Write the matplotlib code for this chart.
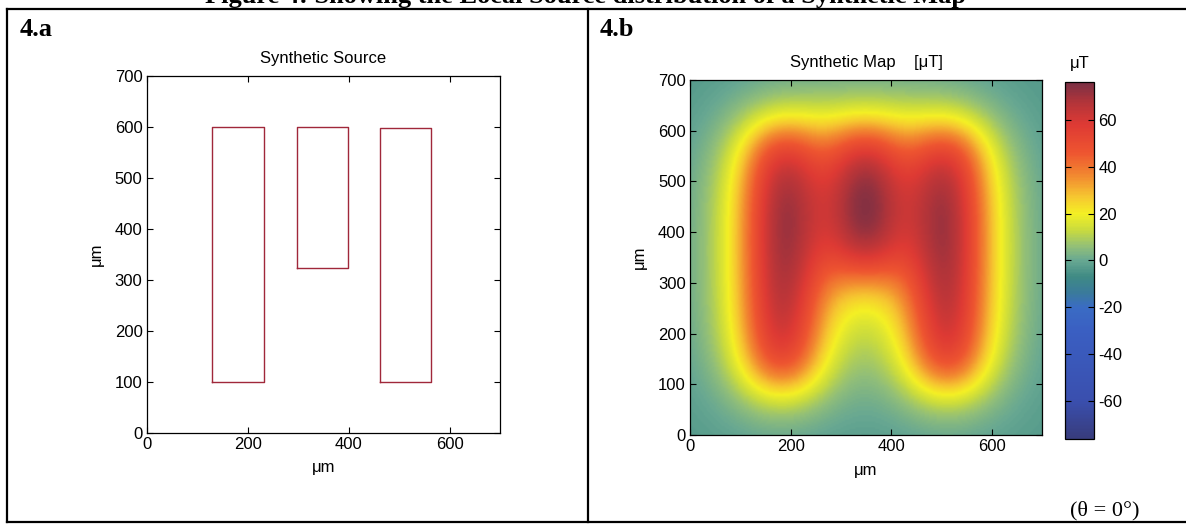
import numpy as np
import matplotlib.pyplot as plt
from matplotlib.colors import LinearSegmentedColormap
from matplotlib.lines import Line2D

plt.rcParams['font.family'] = ['Liberation Sans', 'DejaVu Sans']
plt.rcParams['axes.unicode_minus'] = False

# synthetic source: three rectangles (um)
rect_x0 = [130, 298, 462]
rect_x1 = [232, 398, 563]
rect_y0 = [100, 323, 100]
rect_y1 = [600, 599, 598]

x_ticks = [0, 200, 400, 600]
y_ticks = [0, 100, 200, 300, 400, 500, 600, 700]
cb_ticks = [-60, -40, -20, 0, 20, 40, 60]

# map model: sensor lift-off / layer thickness (um), peak field (uT)
liftoff = 82
thickness = 300
peak_field = 74
cb_lim = 76

# colour scale as it looks in the scan
cmap_vals = [-76, -60, -30, -20, -14, -7, 0, 6, 13, 20, 27, 36, 46, 58, 68, 76]
cmap_cols = ['#383c7c', '#3a4fae', '#3a5fc2', '#3a6cc4', '#3a7a9c', '#3f8a84',
             '#68a892', '#92bf78', '#c9db3e', '#f4f024', '#f6c830', '#f28a30',
             '#ee5530', '#de3a34', '#b0343a', '#7a3044']


def solid_angle(xx, yy, z, x0, x1, y0, y1):
    om = np.zeros_like(xx)
    for xi, sx in ((x1, 1), (x0, -1)):
        for yj, sy in ((y1, 1), (y0, -1)):
            dx = xi - xx
            dy = yj - yy
            r = np.sqrt(dx**2 + dy**2 + z**2)
            om += sx * sy * np.arctan(dx * dy / (z * r))
    return om


def synthetic_map():
    g = np.arange(0, 701, 3.0)
    xx, yy = np.meshgrid(g, g)
    bz = np.zeros_like(xx)
    for x0, x1, y0, y1 in zip(rect_x0, rect_x1, rect_y0, rect_y1):
        bz += solid_angle(xx, yy, liftoff, x0, x1, y0, y1)
        bz -= solid_angle(xx, yy, liftoff + thickness, x0, x1, y0, y1)
    return bz / bz.max() * peak_field


def style_axes(ax):
    ax.set_xlim(0, 700)
    ax.set_ylim(0, 700)
    ax.set_xticks(x_ticks)
    ax.set_yticks(y_ticks)
    ax.tick_params(direction='in', top=True, right=True, length=4,
                   width=0.8, labelsize=12, pad=3)
    for s in ax.spines.values():
        s.set_linewidth(0.9)
    ax.set_xlabel('μm', fontsize=12, labelpad=6)
    ax.set_ylabel('μm', fontsize=12, labelpad=8)


fig = plt.figure(figsize=(11.86, 5.25), dpi=100)

# page frame from the scanned document
W, H = 1186.0, 525.0
frame = [((7, 1186), (9, 9)), ((7, 7), (9, 522)), ((7, 1186), (522, 522)),
         ((588, 588), (9, 522))]
for xs, ys in frame:
    fig.add_artist(Line2D([x / W for x in xs], [1 - y / H for y in ys],
                          color='black', lw=1.6))

fig.text(966 / W, 1 - 3 / H, 'Figure 4: Showing the Local Source distribution of a Synthetic Map',
         ha='right', va='baseline', fontsize=19, fontweight='bold',
         family=['Liberation Serif', 'DejaVu Serif'])
fig.text(20 / W, 1 - 29 / H, '4.a', ha='left', va='center', fontsize=19,
         fontweight='bold', family=['Liberation Serif', 'DejaVu Serif'])
fig.text(600 / W, 1 - 29 / H, '4.b', ha='left', va='center', fontsize=19,
         fontweight='bold', family=['Liberation Serif', 'DejaVu Serif'])
fig.text(1105 / W, 1 - 511 / H, '(θ = 0°)', ha='center', va='center',
         fontsize=16, family=['Liberation Serif', 'DejaVu Serif'])

# 4.a synthetic source
ax1 = fig.add_axes([146.7 / W, 1 - 432.7 / H, 353.3 / W, 356.7 / H])
for x0, x1, y0, y1 in zip(rect_x0, rect_x1, rect_y0, rect_y1):
    ax1.plot([x0, x1, x1, x0, x0], [y0, y0, y1, y1, y0], color='#a0283a', lw=1.0)
style_axes(ax1)
ax1.set_title('Synthetic Source', fontsize=12, pad=9)

# 4.b synthetic map
cmap = LinearSegmentedColormap.from_list(
    'scan', [((v + cb_lim) / (2 * cb_lim), c) for v, c in zip(cmap_vals, cmap_cols)])
ax2 = fig.add_axes([690 / W, 1 - 435 / H, 352 / W, 355 / H])
im = ax2.imshow(synthetic_map(), origin='lower', extent=[0, 700, 0, 700],
                cmap=cmap, vmin=-cb_lim, vmax=cb_lim, aspect='auto',
                interpolation='bilinear')
style_axes(ax2)
ax2.set_title('Synthetic Map    [μT]', fontsize=12, pad=9)

cax = fig.add_axes([1065 / W, 1 - 439 / H, 29 / W, 357 / H])
cb = fig.colorbar(im, cax=cax, ticks=cb_ticks)
cb.outline.set_linewidth(0.9)
cax.tick_params(direction='in', left=True, right=True, length=4, width=0.8,
                labelsize=12, pad=3)
cax.set_title('μT', fontsize=12, pad=10)

fig.savefig('out.png', dpi=100)
